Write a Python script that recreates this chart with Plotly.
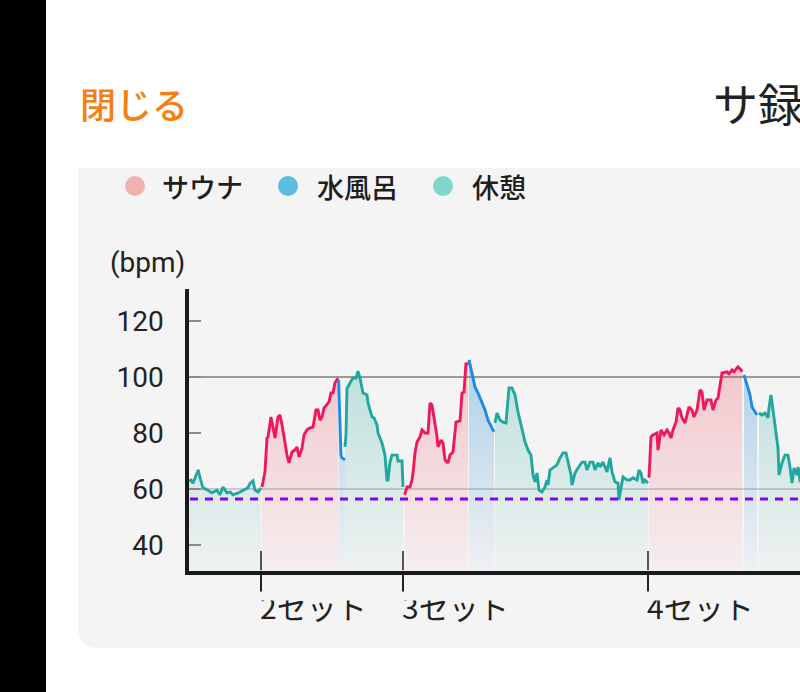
import plotly.graph_objects as go

# ---------------- data (minutes from start, bpm) ----------------
rest1_t = [0.5, 1.0, 1.5, 2.8, 3.2, 4.0, 5.2, 6.2, 7.5, 8.2, 9.0, 10.0, 10.8, 11.5, 12.8, 14.0, 15.2, 15.8, 16.5, 17.0, 17.8, 18.5]
rest1_bpm = [62.9, 63.2, 62.1, 66.8, 64.3, 60.4, 59.6, 58.6, 59.6, 57.9, 60.7, 58.6, 58.9, 57.9, 58.6, 59.6, 60.4, 62.1, 62.9, 59.6, 58.9, 60.4]

sauna1_t = [18.75, 19.5, 20.0, 20.25, 21.0, 21.5, 22.0, 22.75, 23.25, 23.75, 24.25, 25.0, 25.5, 26.25, 27.0, 27.5, 28.0, 28.75, 29.25, 30.0, 30.75, 31.5, 32.25, 32.75, 33.25, 33.75, 34.25, 35.0, 35.5, 36.0, 36.5, 37.0, 37.5, 37.75]
sauna1_bpm = [60.7, 66.1, 78.2, 78.6, 85.7, 81.8, 78.2, 85.7, 86.4, 82.9, 78.2, 72.1, 69.3, 73.2, 73.9, 75.0, 71.4, 74.6, 79.3, 81.1, 81.8, 82.1, 88.2, 88.2, 84.6, 85.7, 88.9, 90.0, 91.1, 94.3, 94.3, 97.9, 98.9, 99.6]

water1_t = [37.9, 38.5, 38.75, 39.5]
water1_bpm = [98.9, 72.1, 71.1, 70.4]

rest2_t = [39.5, 39.75, 40.0, 40.25, 40.75, 41.5, 42.25, 42.75, 43.25, 44.0, 45.0, 45.25, 46.25, 46.75, 47.5, 47.75, 48.75, 49.5, 50.0, 50.25, 50.75, 51.25, 52.5, 52.75, 53.75, 54.0]
rest2_bpm = [75.0, 79.3, 96.1, 96.4, 97.9, 99.6, 99.6, 102.1, 99.6, 94.3, 93.6, 90.7, 85.7, 85.4, 82.9, 80.0, 76.4, 72.1, 63.2, 63.2, 69.6, 72.1, 72.1, 70.0, 70.0, 60.7]

sauna2_t = [54.4, 55.0, 55.75, 56.25, 56.5, 57.0, 57.5, 58.25, 58.75, 59.5, 60.25, 60.75, 61.25, 61.75, 62.5, 62.75, 63.5, 64.0, 64.5, 65.25, 65.75, 66.5, 67.25, 68.25, 68.75, 69.25, 69.75, 70.25]
sauna2_bpm = [57.9, 60.7, 60.7, 63.2, 65.7, 72.9, 76.8, 78.6, 81.1, 80.0, 80.0, 90.7, 90.0, 85.7, 78.6, 75.0, 77.5, 76.4, 70.4, 69.3, 72.1, 73.2, 83.9, 84.3, 94.3, 94.6, 105.0, 104.3]

water2_t = [70.5, 71.25, 72.0, 72.75, 73.75, 74.5, 75.25, 76.25, 76.75]
water2_bpm = [106.1, 100.7, 96.4, 94.3, 91.1, 88.2, 84.6, 81.8, 80.4]

rest3_t = [77.0, 77.5, 78.25, 79.0, 79.75, 80.5, 81.25, 82.0, 82.75, 83.75, 84.5, 85.25, 86.0, 86.5, 87.0, 87.5, 88.0, 88.75, 89.5, 90.0, 90.25, 90.75, 91.5, 92.5, 93.25, 94.0, 94.75, 95.25, 96.0, 96.25, 97.0, 97.75, 98.75, 99.5, 100.0, 100.75, 101.5, 102.0, 102.75, 103.25, 104.0, 105.0, 105.75, 106.25, 107.0, 107.75, 108.0, 108.5, 109.0, 110.0, 110.75, 111.5, 112.5, 113.0, 113.5, 114.0, 114.5, 115.25]
rest3_bpm = [83.6, 87.1, 84.6, 83.9, 83.6, 96.1, 96.1, 93.6, 87.5, 81.1, 76.8, 73.9, 72.1, 65.0, 62.5, 65.7, 59.6, 58.9, 60.7, 63.2, 61.4, 66.8, 67.5, 68.6, 71.1, 72.9, 72.9, 69.6, 65.0, 61.4, 65.7, 67.5, 69.6, 69.6, 66.8, 69.6, 69.6, 66.8, 69.3, 67.9, 69.6, 66.1, 71.1, 66.1, 62.5, 62.1, 56.1, 60.4, 64.3, 63.2, 63.2, 64.0, 63.2, 66.8, 65.7, 62.1, 63.2, 62.1]

sauna3_t = [115.5, 116.0, 116.5, 117.5, 117.75, 118.5, 119.25, 120.0, 120.5, 121.0, 121.5, 122.25, 122.75, 123.25, 123.75, 124.5, 125.0, 125.5, 126.25, 126.75, 127.5, 128.25, 128.75, 129.25, 130.0, 131.0, 131.5, 132.25, 132.75, 133.25, 133.75, 135.0, 135.5, 136.25, 136.75, 137.5, 137.75, 138.5, 138.75]
sauna3_bpm = [64.0, 78.6, 79.3, 80.0, 73.9, 81.1, 79.3, 81.1, 80.0, 78.2, 81.1, 83.9, 88.9, 88.2, 85.4, 83.6, 86.4, 89.3, 88.2, 85.7, 88.2, 95.4, 94.6, 88.2, 91.8, 91.8, 88.2, 91.8, 92.5, 97.1, 101.4, 101.8, 101.1, 102.5, 101.8, 103.2, 103.6, 102.5, 101.8]

water3_t = [139.25, 140.25, 140.75, 141.25, 142.0, 142.5]
water3_bpm = [100.7, 96.4, 93.6, 89.3, 87.5, 86.4]

rest4_t = [143.0, 143.75, 144.5, 145.25, 145.5, 146.0, 146.5, 147.0, 147.75, 148.0, 148.75, 149.5, 150.25, 150.75, 151.25, 151.75, 152.5, 152.75, 153.25, 154.0]
rest4_bpm = [87.1, 86.4, 87.1, 85.4, 88.9, 93.6, 88.2, 82.9, 74.6, 65.0, 69.3, 72.1, 72.1, 67.9, 62.1, 67.5, 65.0, 67.9, 63.2, 64.0]

set_ticks = [18.5, 54.0, 115.25]
set_labels = ["2セット", "3セット", "4セット"]
ytick_vals = [40, 60, 80, 100, 120]
ref_high = 100
ref_low = 60
resting_bpm = 56.4

legend_names = ["サウナ", "水風呂", "休憩"]

phases = [
    ("rest", rest1_t, rest1_bpm), ("sauna", sauna1_t, sauna1_bpm), ("water", water1_t, water1_bpm),
    ("rest", rest2_t, rest2_bpm), ("sauna", sauna2_t, sauna2_bpm), ("water", water2_t, water2_bpm),
    ("rest", rest3_t, rest3_bpm), ("sauna", sauna3_t, sauna3_bpm), ("water", water3_t, water3_bpm),
    ("rest", rest4_t, rest4_bpm),
]

# ---------------- style ----------------
W, H = 800, 692
Y_LO, Y_HI = 30.9, 131.4
LINE = {"sauna": "#f0185c", "water": "#1f8ae6", "rest": "#22a79e"}
FILL_RGB = {"sauna": (236, 60, 80), "water": (40, 140, 210), "rest": (34, 167, 158)}
FILL_TOP = {"sauna": 0.25, "water": 0.34, "rest": 0.27}
LEG = {"sauna": "#f0b3b3", "water": "#5bbbe0", "rest": "#7fd6cc"}
PANEL = "#f5f4f4"
JP = "Noto Sans CJK JP"

def px(x):
    return x / W

def py(y):
    return 1 - y / H

fig = go.Figure()

for kind, t, b in phases:
    r, g, bb = FILL_RGB[kind]
    fig.add_trace(go.Scatter(
        x=t, y=b, mode="lines",
        line=dict(color=LINE[kind], width=2.9),
        fill="tozeroy",
        fillgradient=dict(
            type="vertical",
            colorscale=[[0, f"rgba({r},{g},{bb},0.03)"], [1, f"rgba({r},{g},{bb},{FILL_TOP[kind]})"]],
            start=30, stop=105,
        ),
        hoverinfo="skip", showlegend=False,
    ))

shapes = []
# black strip on the left
shapes.append(dict(type="rect", xref="paper", yref="paper", x0=0, x1=px(46), y0=0, y1=1,
                   fillcolor="#000000", line_width=0, layer="below"))
# grey panel with rounded bottom-left corner
xl, xr = px(78), 1.02
yt, yb = py(168), py(648)
rx, ry = 20 / W, 20 / H
shapes.append(dict(type="path", xref="paper", yref="paper",
                   path=f"M {xl},{yt} L {xl},{yb + ry} Q {xl},{yb} {xl + rx},{yb} L {xr},{yb} L {xr},{yt} Z",
                   fillcolor=PANEL, line_width=0, layer="below"))
# reference lines
shapes.append(dict(type="line", xref="paper", yref="y", x0=px(189), x1=1, y0=ref_high, y1=ref_high,
                   line=dict(color="#9a9a9a", width=2), layer="below"))
shapes.append(dict(type="line", xref="paper", yref="y", x0=px(189), x1=1, y0=ref_low, y1=ref_low,
                   line=dict(color="#a0a0a0", width=1.2), layer="below"))
# resting heart rate dashed line
shapes.append(dict(type="line", xref="paper", yref="y", x0=px(190), x1=1, y0=resting_bpm, y1=resting_bpm,
                   line=dict(color="#8a00f0", width=3, dash="8px,7px"), layer="above"))
# upper part of set ticks
for tv in set_ticks:
    shapes.append(dict(type="line", xref="x", yref="y", x0=tv, x1=tv, y0=Y_LO, y1=Y_LO + 7.0,
                       line=dict(color="#222222", width=1.5), layer="above"))
# legend dots
for cx, kind in zip([135, 288, 443], ["sauna", "water", "rest"]):
    shapes.append(dict(type="circle", xref="paper", yref="paper",
                       x0=px(cx - 10), x1=px(cx + 10), y0=py(196), y1=py(176),
                       fillcolor=LEG[kind], line_width=0, layer="above"))

annotations = []
for lx, name in zip([160, 315, 470], legend_names):
    annotations.append(dict(x=px(lx), y=py(186), xref="paper", yref="paper", text=name,
                            showarrow=False, xanchor="left", yanchor="middle",
                            font=dict(family=JP, size=27, color="#1e1e1e", weight=500)))
annotations.append(dict(x=px(147), y=py(262), xref="paper", yref="paper", text="(bpm)",
                        showarrow=False, xanchor="center", yanchor="middle",
                        font=dict(family="Roboto", size=28, color="#222222")))
annotations.append(dict(x=px(78), y=py(103), xref="paper", yref="paper", text="閉じる",
                        showarrow=False, xanchor="left", yanchor="middle",
                        font=dict(family=JP, size=36, color="#f57f12", weight=500)))
annotations.append(dict(x=px(711), y=py(103), xref="paper", yref="paper", text="サ録",
                        showarrow=False, xanchor="left", yanchor="middle",
                        font=dict(family=JP, size=45, color="#222222")))
for tv, lab in zip(set_ticks, set_labels):
    annotations.append(dict(x=tv, y=py(606), xref="x", yref="paper", text=lab,
                            showarrow=False, xanchor="left", yanchor="middle", xshift=-3,
                            font=dict(family=JP, size=30, color="#222222")))
# the set labels are cut at the top in the app (scroll clip): cover their top edge
annotations.append(dict(x=px(250), y=py(591), xref="paper", yref="paper", text=" ",
                        showarrow=False, xanchor="left", yanchor="top",
                        width=560, height=8, borderpad=0, bgcolor=PANEL,
                        font=dict(size=6)))

fig.update_layout(
    width=W, height=H, autosize=False,
    margin=dict(l=0, r=0, t=0, b=0, pad=0),
    paper_bgcolor="#ffffff", plot_bgcolor="rgba(0,0,0,0)",
    shapes=shapes, annotations=annotations, showlegend=False,
    xaxis=dict(domain=[px(189), 1], range=[0.5, 153.25], showgrid=False, zeroline=False,
               showline=True, linecolor="#1a1a1a", linewidth=3.5,
               ticks="outside", ticklen=18, tickwidth=1.5, tickcolor="#222222",
               tickvals=set_ticks, showticklabels=False, fixedrange=True),
    yaxis=dict(domain=[py(570.5), py(289)], range=[Y_LO, Y_HI], showgrid=False, zeroline=False,
               showline=True, linecolor="#1a1a1a", linewidth=3.5,
               ticks="inside", ticklen=12, tickwidth=2, tickcolor="#8a8a8a",
               tickvals=ytick_vals, ticklabelstandoff=16,
               tickfont=dict(family="Roboto", size=28, color="#222222"), fixedrange=True),
)

fig.write_html("out.html", config={"displayModeBar": False},
               post_script="document.body.style.margin='0';document.documentElement.style.overflow='hidden';")
